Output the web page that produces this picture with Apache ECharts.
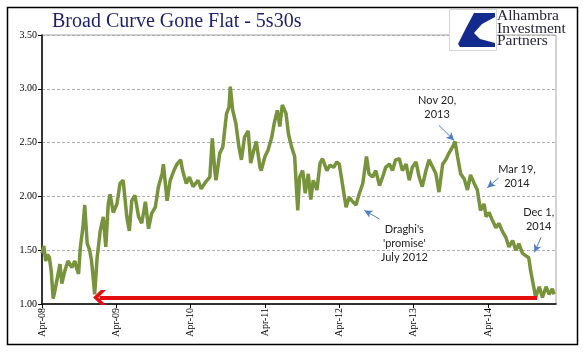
<!DOCTYPE html>
<html>
<head>
<meta charset="utf-8">
<script src="https://cdn.jsdelivr.net/npm/echarts@6/dist/echarts.min.js"></script>
<style>html,body{margin:0;padding:0;background:#fff}#c{width:583px;height:361px}</style>
</head>
<body>
<div id="c"></div>
<script>
// months elapsed since Apr 2008
var months = [0,0.3,0.6,0.9,1.2,1.5,1.8,2.0,2.3,2.6,2.9,3.2,3.7,4.2,4.8,5.3,5.6,5.9,6.2,6.6,6.9,7.3,7.7,8.0,8.3,8.5,8.9,9.4,9.9,10.3,10.7,11.0,11.5,12.1,12.6,13.1,13.7,14.1,14.5,15.0,15.6,16.1,16.7,17.2,17.7,18.3,18.8,19.4,19.6,20.2,20.7,21.3,21.8,22.4,22.7,23.3,23.8,24.4,25.2,25.7,26.5,27.1,27.5,27.9,28.1,28.7,29.2,29.8,30.2,30.4,30.8,31.3,31.8,32.2,32.7,33.3,33.7,34.2,34.6,35.2,35.4,36.0,36.5,37.1,37.5,38.0,38.4,38.8,39.4,39.8,40.3,40.8,41.1,41.3,41.6,42.1,42.5,43.0,43.4,43.8,44.4,44.9,45.3,46.0,46.5,47.1,47.6,48.0,48.5,49.1,49.6,50.2,50.7,51.2,51.8,52.4,52.8,53.4,53.9,54.5,55.0,55.5,56.1,56.6,57.1,57.7,58.2,58.8,59.3,59.8,60.4,60.9,61.4,62.0,62.5,63.1,63.6,64.1,64.7,65.2,65.7,66.3,66.7,67.1,67.6,68.2,68.7,69.2,69.8,70.3,70.8,71.4,71.7,72.2,72.7,73.3,73.8,74.3,74.9,75.4,76.0,76.5,77.0,77.6,78.1,78.6,78.9,79.2,79.5,79.7,80.3,80.8,81.4,81.9,82.4,82.7];
// 5s30s spread (%)
var spread = [1.47,1.54,1.40,1.46,1.43,1.30,1.05,1.10,1.19,1.28,1.37,1.19,1.31,1.40,1.34,1.40,1.33,1.28,1.53,1.71,1.92,1.56,1.50,1.40,1.22,1.09,1.43,1.68,1.81,1.53,1.93,2.02,1.85,1.93,2.12,2.15,1.81,1.68,1.96,2.01,1.81,1.75,1.95,1.70,1.84,1.90,2.09,2.21,2.30,1.96,2.15,2.24,2.30,2.34,2.24,2.12,2.18,2.09,2.15,2.07,2.14,2.18,2.54,2.24,2.15,2.40,2.46,2.77,2.83,3.02,2.80,2.68,2.46,2.34,2.55,2.61,2.31,2.43,2.51,2.27,2.24,2.37,2.43,2.55,2.68,2.80,2.65,2.85,2.77,2.58,2.46,2.37,2.06,1.87,2.18,2.24,2.03,2.21,1.97,2.15,2.06,2.31,2.35,2.24,2.29,2.27,2.32,2.30,2.12,1.90,1.99,1.95,1.92,2.02,2.12,2.37,2.21,2.18,2.24,2.10,2.18,2.27,2.30,2.24,2.34,2.35,2.24,2.30,2.15,2.27,2.32,2.18,2.09,2.24,2.34,2.27,2.21,2.04,2.30,2.34,2.40,2.46,2.51,2.37,2.21,2.16,2.06,2.20,2.12,2.06,1.87,1.93,1.81,1.85,1.78,1.71,1.75,1.68,1.62,1.53,1.59,1.50,1.56,1.47,1.45,1.43,1.31,1.22,1.13,1.06,1.16,1.06,1.16,1.09,1.14,1.09];
var tickMonths = [0,12,24,36,48,60,72];
var tickLabels = ['Apr-08','Apr-09','Apr-10','Apr-11','Apr-12','Apr-13','Apr-14'];
var titleText = 'Broad Curve Gone Flat - 5s30s';
var logoLines = ['Alhambra','Investment','Partners'];
// annotations: [text, textMonth, textValue, arrowFrom[m,v], arrowTo[m,v]]
var notes = [
  ['Nov 20,\n2013', 63.8, 2.83, [64.1, 2.66], [66.55, 2.52]],
  ['Mar 19,\n2014', 76.7, 2.19, [73.7, 2.17], [71.9, 2.08]],
  ['Dec 1,\n2014', 80.2, 1.79, [80.6, 1.62], [79.5, 1.48]],
  ["Draghi's\n'promise'\nJuly 2012", 58.5, 1.56, [54.5, 1.79], [52.05, 1.87]]
];
var flatArrow = [[79.95, 1.06], [9.3, 1.06]];

var data = months.map(function (m, i) { return [m, spread[i]]; });
var serif = 'Liberation Serif';
var chart = echarts.init(document.getElementById('c'), null, {renderer: 'canvas'});
var graphics = [
  {type: 'rect', left: 5, top: 5, shape: {width: 570, height: 337}, style: {fill: 'none', stroke: '#000', lineWidth: 1.5}, z: 0},
  {type: 'text', left: 52, top: 12, style: {text: titleText, fontFamily: serif, fontSize: 20, fill: '#1b1f6e'}, z: 10},
  {type: 'rect', left: 449, top: 9, shape: {width: 47, height: 41}, style: {fill: '#fff', stroke: '#d6d6d6', lineWidth: 1}, z: 10},
  {type: 'polygon', shape: {points: [[474,13],[495,13],[495,17],[482,24],[474,33],[480,39],[495,43],[495,47],[460,47],[458,44],[466,28]]}, style: {fill: '#142a8c'}, z: 11}
];
logoLines.forEach(function (t, i) {
  graphics.push({type: 'text', left: 497, top: 8 + i * 12.5, style: {text: t, fontFamily: serif, fontSize: 15.5, fill: '#26263a'}, z: 11});
});
chart.setOption({
  animation: false,
  backgroundColor: '#fff',
  grid: {left: 42, right: 27, top: 35, bottom: 57, show: true, borderColor: '#a6a6a6', borderWidth: 1},
  xAxis: {
    type: 'value', min: 0, max: 83, interval: 12,
    splitLine: {show: false},
    axisLine: {lineStyle: {color: '#000', width: 1.5}},
    axisTick: {show: true, length: 4, customValues: tickMonths, lineStyle: {color: '#000'}},
    axisLabel: {
      customValues: tickMonths, rotate: 90, margin: 4,
      fontFamily: serif, fontSize: 10, color: '#000',
      formatter: function (v) { var i = tickMonths.indexOf(v); return i >= 0 ? tickLabels[i] : ''; }
    }
  },
  yAxis: {
    type: 'value', min: 1, max: 3.5, interval: 0.5,
    axisLine: {show: true, lineStyle: {color: '#000', width: 1.5}},
    axisTick: {show: true, length: 4, lineStyle: {color: '#000'}},
    axisLabel: {fontFamily: serif, fontSize: 10, color: '#000', margin: 5,
      formatter: function (v) { return v.toFixed(2); }},
    splitLine: {show: true, lineStyle: {color: '#b0b0b0', type: [3, 2], width: 1}}
  },
  series: [{
    type: 'line', data: data, showSymbol: false, symbol: 'none',
    lineStyle: {color: '#77933c', width: 3.5}, z: 3,
    markLine: {
      silent: true, animation: false,
      label: {show: false},
      data: notes.map(function (n) {
        return [{coord: n[3], symbol: 'none', lineStyle: {color: '#4f7ec4', width: 1, type: 'solid'}},
                {coord: n[4], symbol: 'arrow', symbolSize: [6, 8]}];
      }).concat([[
        {coord: flatArrow[0], symbol: 'none', lineStyle: {color: '#e41010', width: 4, type: 'solid'}},
        {coord: flatArrow[1], symbol: 'path://M10,0 L20,9 L20,15 L10,6 L0,15 L0,9 Z', symbolSize: [15, 13]}
      ]])
    },
    markPoint: {
      silent: true, symbol: 'circle', symbolSize: 0,
      data: notes.map(function (n) {
        return {coord: [n[1], n[2]], value: n[0],
          label: {show: true, position: 'inside', formatter: n[0], fontFamily: 'Lato', fontSize: 11,
            color: '#222', lineHeight: 14, align: 'center', verticalAlign: 'middle'}};
      })
    }
  }],
  graphic: graphics
});
</script>
</body>
</html>
